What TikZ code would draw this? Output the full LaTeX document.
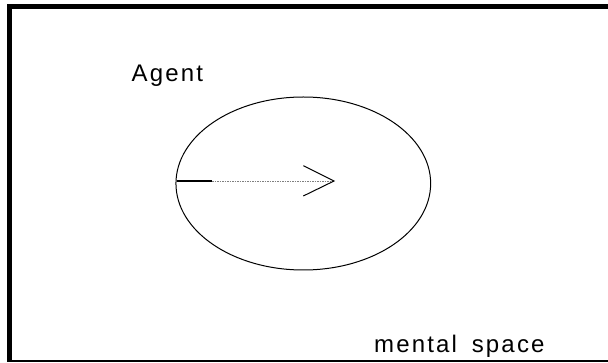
\documentclass[tikz,border=0pt]{standalone}
\usepackage{fontspec}
\usetikzlibrary{shapes.geometric}
\setmainfont{Liberation Sans}[LetterSpace=9]
\begin{document}
\begin{tikzpicture}[x=1pt,y=-1pt,
  framethick/.style={line width=5pt},
  framethin/.style={line width=2pt},
  lbl/.style={anchor=base west,inner sep=0pt,font=\fontsize{24}{28}\selectfont},
  mspace/.style={ellipse,draw,line width=1pt,minimum width=254.7pt,minimum height=173pt,inner sep=0pt},
  dots/.style={line width=0.9pt,gray,dash pattern=on 1.5pt off 1pt},
  headline/.style={line width=1pt}]
\useasboundingbox (0,0) rectangle (608,363);
\coordinate (tl) at (9.5,6.5);
\coordinate (tr) at (608,6.5);
\coordinate (bl) at (9.5,362);
\coordinate (bl2) at (12,361);
\coordinate (br) at (608,361);
\draw[framethick] (tr) -- (tl) -- (bl);
\draw[framethin] (bl2) -- (br);
\node[mspace] (ell) at (303.3,183.5) {};
\coordinate (start) at (176.5,181);
\coordinate (solidend) at (212,181);
\coordinate (tip) at (334,181);
\coordinate (hu) at (303.3,165.7);
\coordinate (hd) at (303.3,196);
\draw[line width=1.5pt] (start) -- (solidend);
\draw[dots] (solidend) -- (tip);
\draw[headline] (hu) -- (tip) -- (hd);
\node[lbl] (agent) at (131.5,82) {Agent};
\node[lbl] (ms) at (374,352.5) {mental\hspace{6pt} space};
\end{tikzpicture}
\end{document}
